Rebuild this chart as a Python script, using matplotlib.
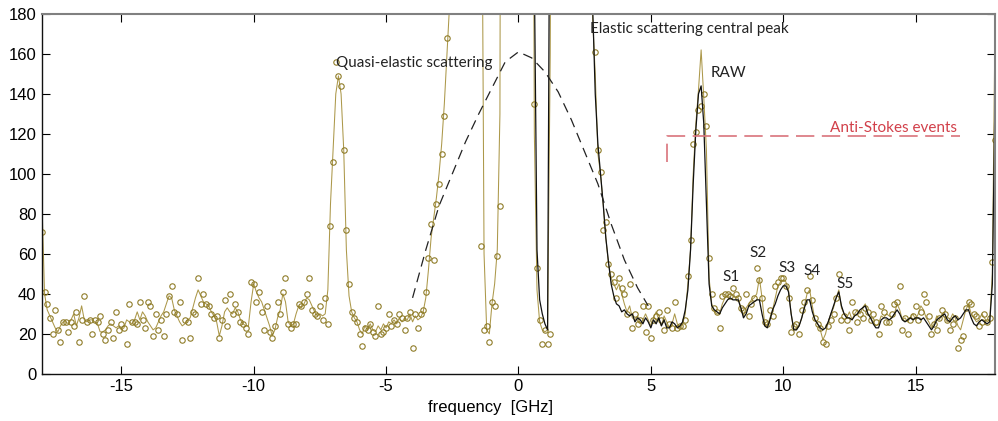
import numpy as np
import matplotlib
matplotlib.use("Agg")
import matplotlib.pyplot as plt

plt.rcParams["axes.unicode_minus"] = False

# frequency grid of the spectrum, 0.1 GHz steps
freq = np.linspace(-18, 18, 361)

# raw counts (circles), one row per GHz
raw_counts = [
    71, 41, 35, 28, 20, 32, 22, 16, 26, 26,
    21, 26, 24, 31, 16, 27, 39, 26, 27, 20,
    27, 26, 29, 20, 17, 22, 26, 18, 31, 22,
    25, 23, 15, 35, 26, 26, 25, 36, 27, 23,
    36, 34, 19, 30, 22, 27, 19, 30, 39, 44,
    31, 30, 36, 17, 27, 26, 18, 31, 30, 48,
    35, 40, 35, 34, 30, 28, 29, 18, 27, 37,
    24, 40, 30, 35, 31, 26, 25, 23, 20, 46,
    45, 36, 41, 31, 22, 34, 21, 18, 24, 36,
    30, 41, 48, 25, 23, 25, 25, 35, 34, 36,
    40, 48, 32, 30, 29, 34, 27, 38, 25, 74,
    106, 156, 149, 144, 112, 72, 45, 31, 28, 26,
    20, 14, 23, 22, 25, 21, 19, 34, 20, 21,
    23, 30, 24, 27, 25, 30, 28, 22, 28, 31,
    13, 30, 23, 30, 32, 41, 58, 75, 57, 85,
    95, 110, 129, 168, 200, 250, 310, 370, 420, 460,
    500, 510, 500, 470, 420, 360, 64, 22, 24, 16,
    36, 34, 59, 84, 700, 1300, 2100, 3000, 3800, 4200,
    4400, 4200, 3500, 2400, 1200, 500, 135, 53, 27, 15,
    22, 15, 20, 500, 1200, 2000, 2600, 3000, 3000, 2700,
    2200, 1600, 1100, 700, 450, 320, 250, 210, 190, 161,
    112, 101, 72, 76, 55, 50, 46, 38, 48, 43,
    40, 30, 45, 23, 30, 25, 27, 34, 21, 34,
    18, 27, 29, 31, 27, 22, 32, 25, 23, 36,
    23, 24, 24, 27, 49, 67, 115, 121, 132, 134,
    140, 124, 58, 40, 33, 31, 23, 39, 40, 40,
    39, 43, 40, 38, 33, 32, 40, 29, 35, 38,
    53, 47, 38, 26, 25, 32, 29, 44, 46, 48,
    48, 44, 38, 21, 24, 25, 20, 32, 36, 42,
    49, 37, 28, 25, 23, 16, 15, 24, 27, 30,
    38, 50, 27, 29, 27, 22, 36, 31, 26, 30,
    28, 33, 31, 27, 30, 26, 20, 34, 31, 26,
    26, 30, 35, 36, 44, 22, 28, 20, 27, 29,
    34, 27, 31, 40, 36, 29, 20, 25, 22, 28,
    32, 30, 27, 22, 25, 28, 13, 17, 19, 33,
    36, 35, 30, 29, 24, 26, 30, 26, 28, 56,
    117,
]

# fitted curve through the raw data (olive line)
fit_counts = [
    86, 40, 32, 29, 26, 23, 21, 24, 26, 26,
    25, 27, 30, 24, 28, 34, 27, 26, 27, 27,
    26, 25, 21, 21, 22, 24, 25, 24, 23, 24,
    22, 23, 27, 26, 25, 27, 31, 27, 31, 29,
    26, 24, 22, 23, 26, 29, 31, 35, 39, 38,
    32, 29, 26, 24, 25, 27, 28, 33, 38, 42,
    39, 36, 35, 34, 31, 29, 26, 19, 24, 31,
    33, 31, 30, 33, 31, 27, 25, 24, 24, 36,
    45, 41, 38, 36, 32, 28, 24, 19, 22, 28,
    32, 40, 36, 26, 24, 25, 30, 34, 33, 35,
    38, 37, 34, 31, 29, 30, 29, 30, 42, 85,
    112, 140, 149, 140, 112, 62, 39, 31, 28, 26,
    22, 20, 24, 22, 25, 22, 21, 24, 22, 25,
    23, 26, 25, 27, 25, 28, 26, 28, 27, 30,
    26, 29, 27, 28, 31, 38, 52, 68, 78, 88,
    100, 115, 135, 160, 185, 230, 290, 350, 410, 460,
    500, 510, 500, 470, 420, 360, 300, 60, 22, 20,
    35, 45, 62, 130, 800, 1300, 2100, 3000, 3800, 4200,
    4400, 4200, 3500, 2400, 1200, 500, 120, 42, 26, 22,
    21, 22, 160, 500, 1200, 2000, 2600, 3000, 3000, 2700,
    2200, 1600, 1100, 700, 450, 320, 250, 230, 178, 150,
    110, 100, 85, 68, 55, 48, 45, 42, 45, 40,
    35, 31, 34, 28, 27, 29, 25, 27, 30, 27,
    24, 28, 31, 27, 24, 29, 26, 23, 25, 30,
    25, 23, 25, 30, 45, 62, 100, 125, 142, 162,
    138, 112, 48, 35, 31, 30, 30, 35, 38, 39,
    40, 39, 38, 38, 33, 29, 33, 35, 37, 38,
    40, 48, 38, 25, 24, 28, 32, 38, 44, 46,
    47, 46, 42, 30, 22, 22, 24, 28, 34, 40,
    42, 34, 27, 25, 22, 17, 20, 26, 30, 33,
    38, 42, 33, 30, 28, 31, 27, 30, 32, 30,
    33, 35, 30, 28, 26, 24, 25, 29, 28, 30,
    29, 28, 30, 35, 32, 27, 28, 26, 28, 30,
    27, 30, 34, 32, 28, 26, 23, 25, 29, 27,
    30, 28, 26, 27, 30, 28, 24, 22, 27, 32,
    35, 30, 28, 26, 27, 30, 28, 26, 27, 50,
    175,
]

# smoothed spectrum (black line), from 0.5 GHz upward
smooth_counts = [
    500, 200, 62, 37, 30,
    25, 22, 300, 900, 1800, 2600, 3000, 3000, 2800, 2500,
    2100, 1600, 1100, 700, 480, 350, 280, 230, 185, 140,
    115, 100, 85, 68, 56, 45, 39, 35, 34, 31,
    32, 30, 29, 30, 26, 28, 27, 25, 28, 26,
    23, 27, 25, 28, 24, 27, 23, 23, 26, 25,
    23, 24, 26, 32, 42, 62, 95, 122, 140, 144,
    125, 85, 45, 34, 32, 31, 30, 33, 35, 37,
    38, 37, 37, 37, 33, 28, 30, 34, 35, 36,
    37, 37, 30, 24, 23, 27, 32, 35, 39, 42,
    44, 44, 41, 30, 22, 22, 24, 28, 33, 37,
    37, 31, 27, 25, 23, 22, 23, 26, 30, 34,
    38, 41, 34, 30, 28, 28, 27, 29, 30, 32,
    33, 34, 30, 28, 25, 23, 23, 27, 28, 28,
    27, 28, 30, 32, 30, 27, 26, 27, 28, 27,
    28, 28, 27, 28, 26, 24, 22, 24, 27, 28,
    29, 30, 27, 26, 28, 29, 27, 28, 30, 32,
    32, 28, 25, 24, 26, 27, 26, 25, 26, 45,
    140,
]
freq_smooth = freq[freq > 0.45]

# quasi-elastic envelope (dashed)
quasi_freq = [-4.0, -3.5, -3.0, -2.5, -2.0, -1.5, -1.0, -0.5, 0.0, 0.5,
              1.0, 1.5, 2.0, 2.5, 3.0, 3.5, 4.0, 4.5, 4.9]
quasi_counts = [38, 62, 84, 100, 116, 130, 143, 156, 161, 158,
                151, 141, 127, 111, 95, 75, 57, 43, 34]

# anti-Stokes bracket
bracket_freq = [5.62, 5.62, 16.67]
bracket_counts = [106, 118.7, 118.7]

peak_labels = ["S1", "S2", "S3", "S4", "S5"]
peak_freq = [8.02, 9.04, 10.13, 11.08, 12.33]
peak_counts = [48.5, 60.5, 53, 51.5, 45]

line_olive = "#ac984a"
dot_olive = "#8f7c28"
note_font = "Lato"

fig = plt.figure(figsize=(9.98, 4.21), dpi=100)
ax = fig.add_axes([0.042, 0.112, 0.955, 0.855])

ax.plot(freq, fit_counts, color=line_olive, lw=0.75)
ax.plot(freq, raw_counts, "o", mfc="none", mec=dot_olive, ms=3.9, mew=0.8)
ax.plot(freq_smooth, smooth_counts, color="#111111", lw=0.9)
ax.plot(quasi_freq, quasi_counts, color="#222222", lw=0.9, dashes=(8, 5))
ax.plot(bracket_freq, bracket_counts, color="#d9737b", lw=1.2, dashes=(11, 4.5))

ax.text(-6.88, 155.5, "Quasi-elastic scattering", fontsize=11, family=note_font,
        color="#222222", va="center", ha="left")
ax.text(2.72, 172.5, "Elastic scattering central peak", fontsize=11, family=note_font,
        color="#222222", va="center", ha="left")
ax.text(7.26, 150.5, "RAW", fontsize=11, family=note_font, color="#222222",
        va="center", ha="left")
ax.text(11.76, 123, "Anti-Stokes events", fontsize=11, family=note_font,
        color="#d2404a", va="center", ha="left")
for lab, x, y in zip(peak_labels, peak_freq, peak_counts):
    ax.text(x, y, lab, fontsize=11, family=note_font, color="#222222",
            va="center", ha="center")

ax.set_xlim(-18, 18)
ax.set_ylim(0, 180)
ax.set_xticks([-15, -10, -5, 0, 5, 10, 15])
ax.set_yticks(range(0, 181, 20))
ax.tick_params(direction="in", length=6, width=0.8, top=True, right=True,
               labelsize=12, pad=4)
for lbl in ax.get_xticklabels() + ax.get_yticklabels():
    lbl.set_family("Liberation Sans")

ax.set_xlabel("frequency  [GHz]", fontsize=12, family="Liberation Sans")
ax.xaxis.set_label_coords(0.471, -0.072)

for side in ["left", "bottom"]:
    ax.spines[side].set_color("#111111")
    ax.spines[side].set_linewidth(1.0)
for side in ["top", "right"]:
    ax.spines[side].set_color("#808080")
    ax.spines[side].set_linewidth(1.5)

fig.savefig("out.png", dpi=100)
plt.close(fig)
